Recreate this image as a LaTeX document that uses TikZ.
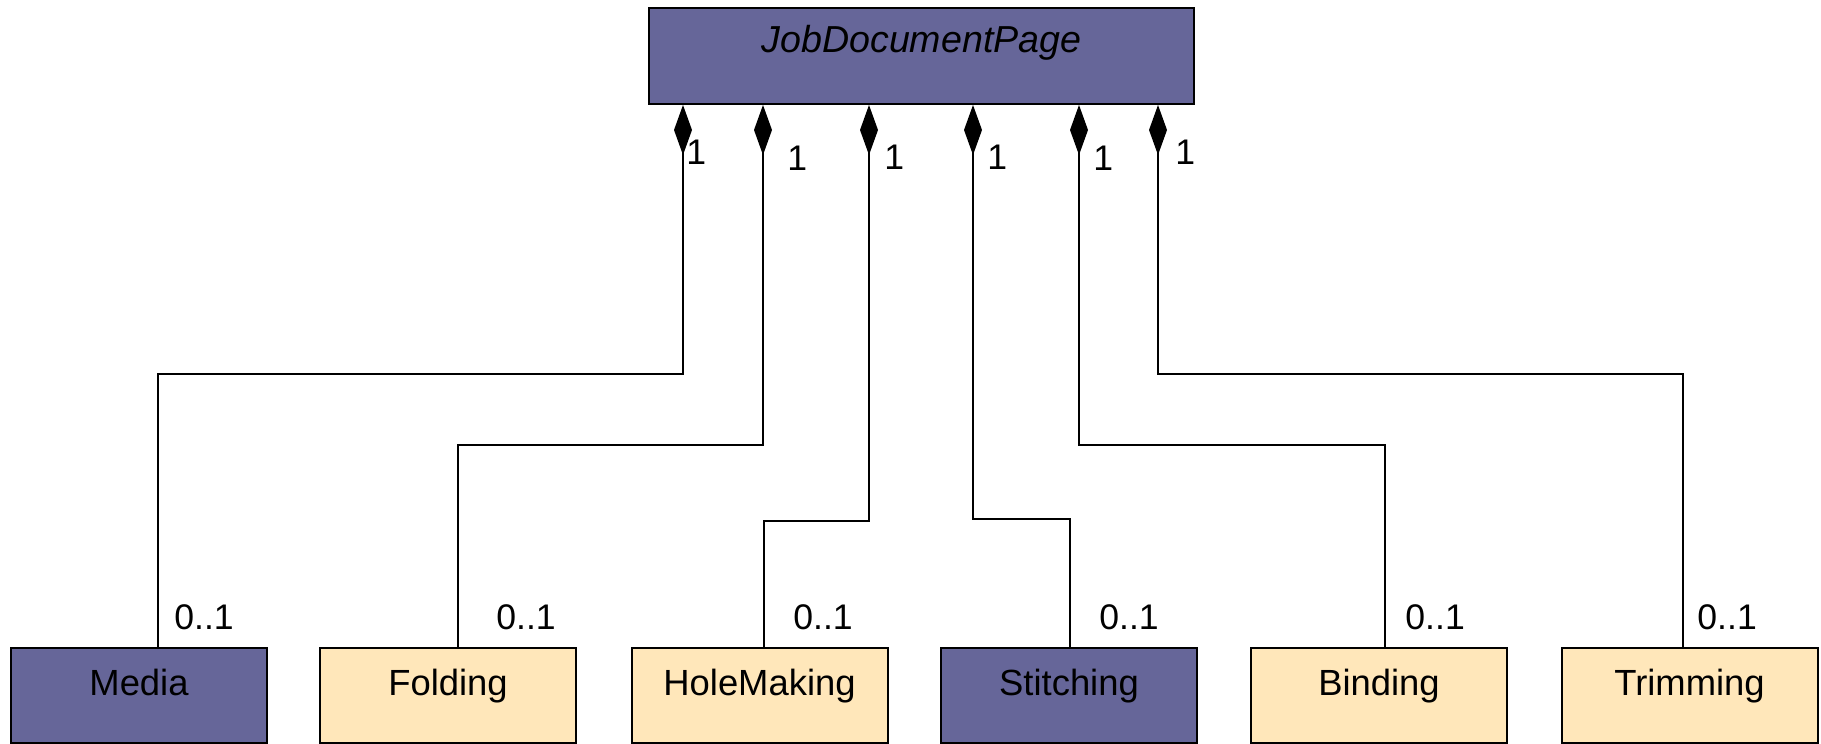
\documentclass[tikz,border=0pt]{standalone}
\usepackage{fontspec}
\setmainfont{Liberation Sans}
\usetikzlibrary{arrows.meta}
\definecolor{cpurple}{HTML}{666699}
\definecolor{cbeige}{HTML}{FFE7BA}
\begin{document}
\begin{tikzpicture}[x=0.5pt,y=-0.5pt,
  cls/.style={draw=black, line width=1pt, inner sep=0pt, minimum width=128pt,
    text height=23.5pt, text depth=24pt, font=\fontsize{18.2}{22}\selectfont},
  purplebox/.style={cls, fill=cpurple},
  beigebox/.style={cls, fill=cbeige},
  comp/.style={draw=black, line width=0.75pt, {Diamond[length=25pt,width=9pt]}-},
  mult/.style={inner sep=0pt, anchor=west, font=\fontsize{17.8}{21}\selectfont}]
\useasboundingbox (0,0) rectangle (1821,744);
% top class
\node[cls, fill=cpurple, minimum width=272.5pt, text height=22.5pt, text depth=25.5pt,
  font=\fontsize{18.8}{22}\selectfont\itshape] (top) at (921.5,56) {JobDocumentPage};
% bottom classes
\node[purplebox] (media) at (139,695.5) {Media};
\node[beigebox] (fold) at (448,695.5) {Folding};
\node[beigebox] (hole) at (759.5,695.5) {HoleMaking};
\node[purplebox] (stitch) at (1069,695.5) {Stitching};
\node[beigebox] (bind) at (1379,695.5) {Binding};
\node[beigebox] (trim) at (1689.5,695.5) {Trimming};
% start coordinates
\coordinate (s1) at (683,0);
\coordinate (s2) at (763,0);
\coordinate (s3) at (869,0);
\coordinate (s4) at (973,0);
\coordinate (s5) at (1079,0);
\coordinate (s6) at (1158,0);
% connectors
\draw[comp] (s1 |- top.south) -- (683,374) -| ([xshift=9.5pt]media.north);
\draw[comp] (s2 |- top.south) -- (763,445) -| ([xshift=5pt]fold.north);
\draw[comp] (s3 |- top.south) -- (869,521) -| ([xshift=2.25pt]hole.north);
\draw[comp] (s4 |- top.south) -- (973,519) -| ([xshift=0.5pt]stitch.north);
\draw[comp] (s5 |- top.south) -- (1079,445) -| ([xshift=3pt]bind.north);
\draw[comp] (s6 |- top.south) -- (1158,374) -| ([xshift=-3.25pt]trim.north);
% multiplicities at top
\node[mult] (a1) at (686,152) {1};
\node[mult] (a2) at (787,158) {1};
\node[mult] (a3) at (884,157) {1};
\node[mult] (a4) at (987,157) {1};
\node[mult] (a5) at (1093,158) {1};
\node[mult] (a6) at (1175,152) {1};
% multiplicities at bottom
\node[mult] (b1) at (174,617) {0..1};
\node[mult] (b2) at (496,617) {0..1};
\node[mult] (b3) at (793,617) {0..1};
\node[mult] (b4) at (1099,617) {0..1};
\node[mult] (b5) at (1405,617) {0..1};
\node[mult] (b6) at (1697,617) {0..1};
\end{tikzpicture}
\end{document}
